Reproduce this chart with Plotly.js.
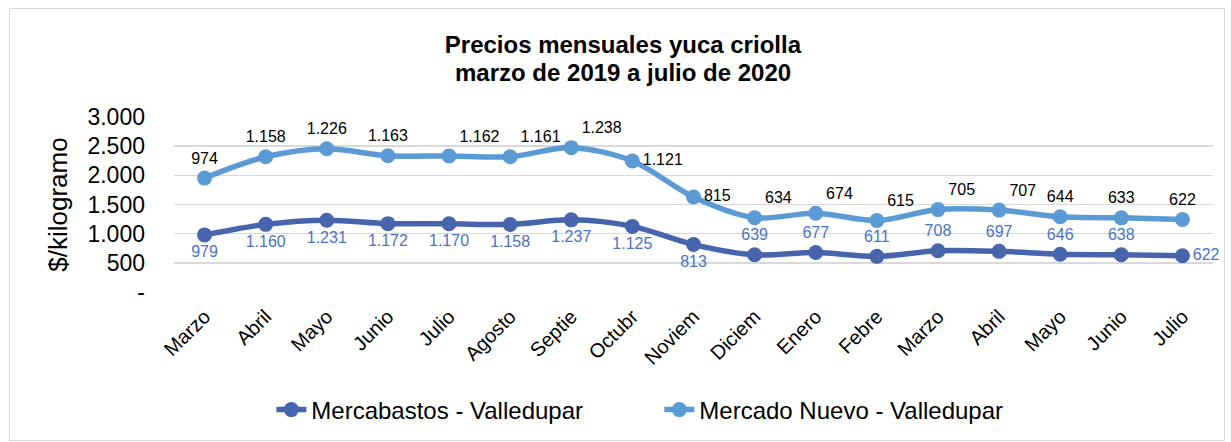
<!DOCTYPE html>
<html>
<head>
<meta charset="utf-8">
<script src="https://cdn.plot.ly/plotly-3.0.1.min.js"></script>
<style>
  html, body { margin: 0; padding: 0; background: #fff; }
  #wrap { position: relative; width: 1231px; height: 442px; }
  #chart { width: 1231px; height: 442px; }
  #frame { position: absolute; left: 9px; top: 8px; width: 1214px; height: 431px; border: 1px solid #d9d9d9; pointer-events: none; }
</style>
</head>
<body>
<div id="wrap"><div id="chart"></div><div id="frame"></div></div>
<script>
const meses = ['Marzo','Abril','Mayo','Junio','Julio','Agosto','Septie','Octubr','Noviem','Diciem','Enero','Febre','Marzo','Abril','Mayo','Junio','Julio'];
const mercabastos = [979,1160,1231,1172,1170,1158,1237,1125,813,639,677,611,708,697,646,638,622];
const mercadoNuevo = [974,1158,1226,1163,1162,1161,1238,1121,815,634,674,615,705,707,644,633,622];
const yTickVals = [0,500,1000,1500,2000,2500,3000];
const yTickText = ['-','500','1.000','1.500','2.000','2.500','3.000'];
const tituloL1 = 'Precios mensuales yuca criolla';
const tituloL2 = 'marzo de 2019 a julio de 2020';

const fmt = v => String(v).replace(/\B(?=(\d{3})+(?!\d))/g, '.');
const xs = meses.map((_, i) => i);
const FONT = 'Liberation Sans, Arial, sans-serif';

const posBajo = mercabastos.map((_, i) => i <= 8 ? 'bottom center' : (i === mercabastos.length - 1 ? 'middle right' : 'top center'));
const posAlto = mercadoNuevo.map((_, i) => {
  if (i >= 4 && i <= 6) return 'top right';
  if (i === 7 || i === 8) return 'middle right';
  if (i >= 9 && i <= 13) return 'top right';
  return 'top center';
});

const traces = [
  {
    name: 'Mercabastos - Valledupar',
    x: xs, y: mercabastos,
    stackgroup: 'one', fill: 'none',
    mode: 'lines+markers+text',
    line: { color: '#4765ad', width: 5.5, shape: 'spline', smoothing: 0.9 },
    marker: { color: '#4765ad', size: 15 },
    text: mercabastos.map(fmt),
    textposition: posBajo,
    textfont: { family: FONT, size: 16, color: '#4a72c4' },
    cliponaxis: false,
    hoverinfo: 'skip'
  },
  {
    name: 'Mercado Nuevo - Valledupar',
    x: xs, y: mercadoNuevo,
    stackgroup: 'one', fill: 'none',
    mode: 'lines+markers+text',
    line: { color: '#5b9bd5', width: 5.5, shape: 'spline', smoothing: 0.9 },
    marker: { color: '#5b9bd5', size: 15 },
    text: mercadoNuevo.map(fmt),
    textposition: posAlto,
    textfont: { family: FONT, size: 16, color: '#000000' },
    cliponaxis: false,
    hoverinfo: 'skip'
  }
];

const layout = {
  width: 1231, height: 442,
  margin: { l: 174, r: 18, t: 117, b: 150 },
  paper_bgcolor: '#ffffff', plot_bgcolor: '#ffffff',
  font: { family: FONT, color: '#000000' },
  title: {
    text: '<b>' + tituloL1 + '</b>',
    font: { family: FONT, size: 24, color: '#000000' },
    xref: 'container', x: 0.506, xanchor: 'center',
    yref: 'container', y: 1 - 45 / 442, yanchor: 'middle'
  },
  annotations: [{
    text: '<b>' + tituloL2 + '</b>',
    font: { family: FONT, size: 24, color: '#000000' },
    xref: 'paper', x: (623 - 174) / (1213 - 174), xanchor: 'center',
    yref: 'paper', y: (292 - 72) / 175, yanchor: 'middle',
    showarrow: false
  }],
  xaxis: {
    range: [-0.5, 16.5],
    tickmode: 'array', tickvals: xs, ticktext: meses,
    tickangle: -45,
    tickfont: { family: FONT, size: 20, color: '#000000' },
    showgrid: false, zeroline: false, showline: false, ticks: '',
    ticklabelstandoff: 8
  },
  yaxis: {
    range: [0, 3000],
    tickmode: 'array', tickvals: yTickVals, ticktext: yTickText,
    tickfont: { family: FONT, size: 23, color: '#000000' },
    gridcolor: '#d9d9d9', gridwidth: 1.5,
    zeroline: false, showline: false, ticks: '',
    ticklabelstandoff: 28,
    title: { text: '$/kilogramo', font: { family: FONT, size: 26, color: '#000000' }, standoff: 12 }
  },
  showlegend: true,
  legend: {
    orientation: 'h',
    xref: 'container', x: 0.5356, xanchor: 'center',
    yref: 'container', y: 1 - 410 / 442, yanchor: 'middle',
    font: { family: FONT, size: 24, color: '#000000' },
    traceorder: 'normal',
    entrywidth: 343
  }
};

Plotly.newPlot('chart', traces, layout, { displayModeBar: false, staticPlot: true });
</script>
</body>
</html>
